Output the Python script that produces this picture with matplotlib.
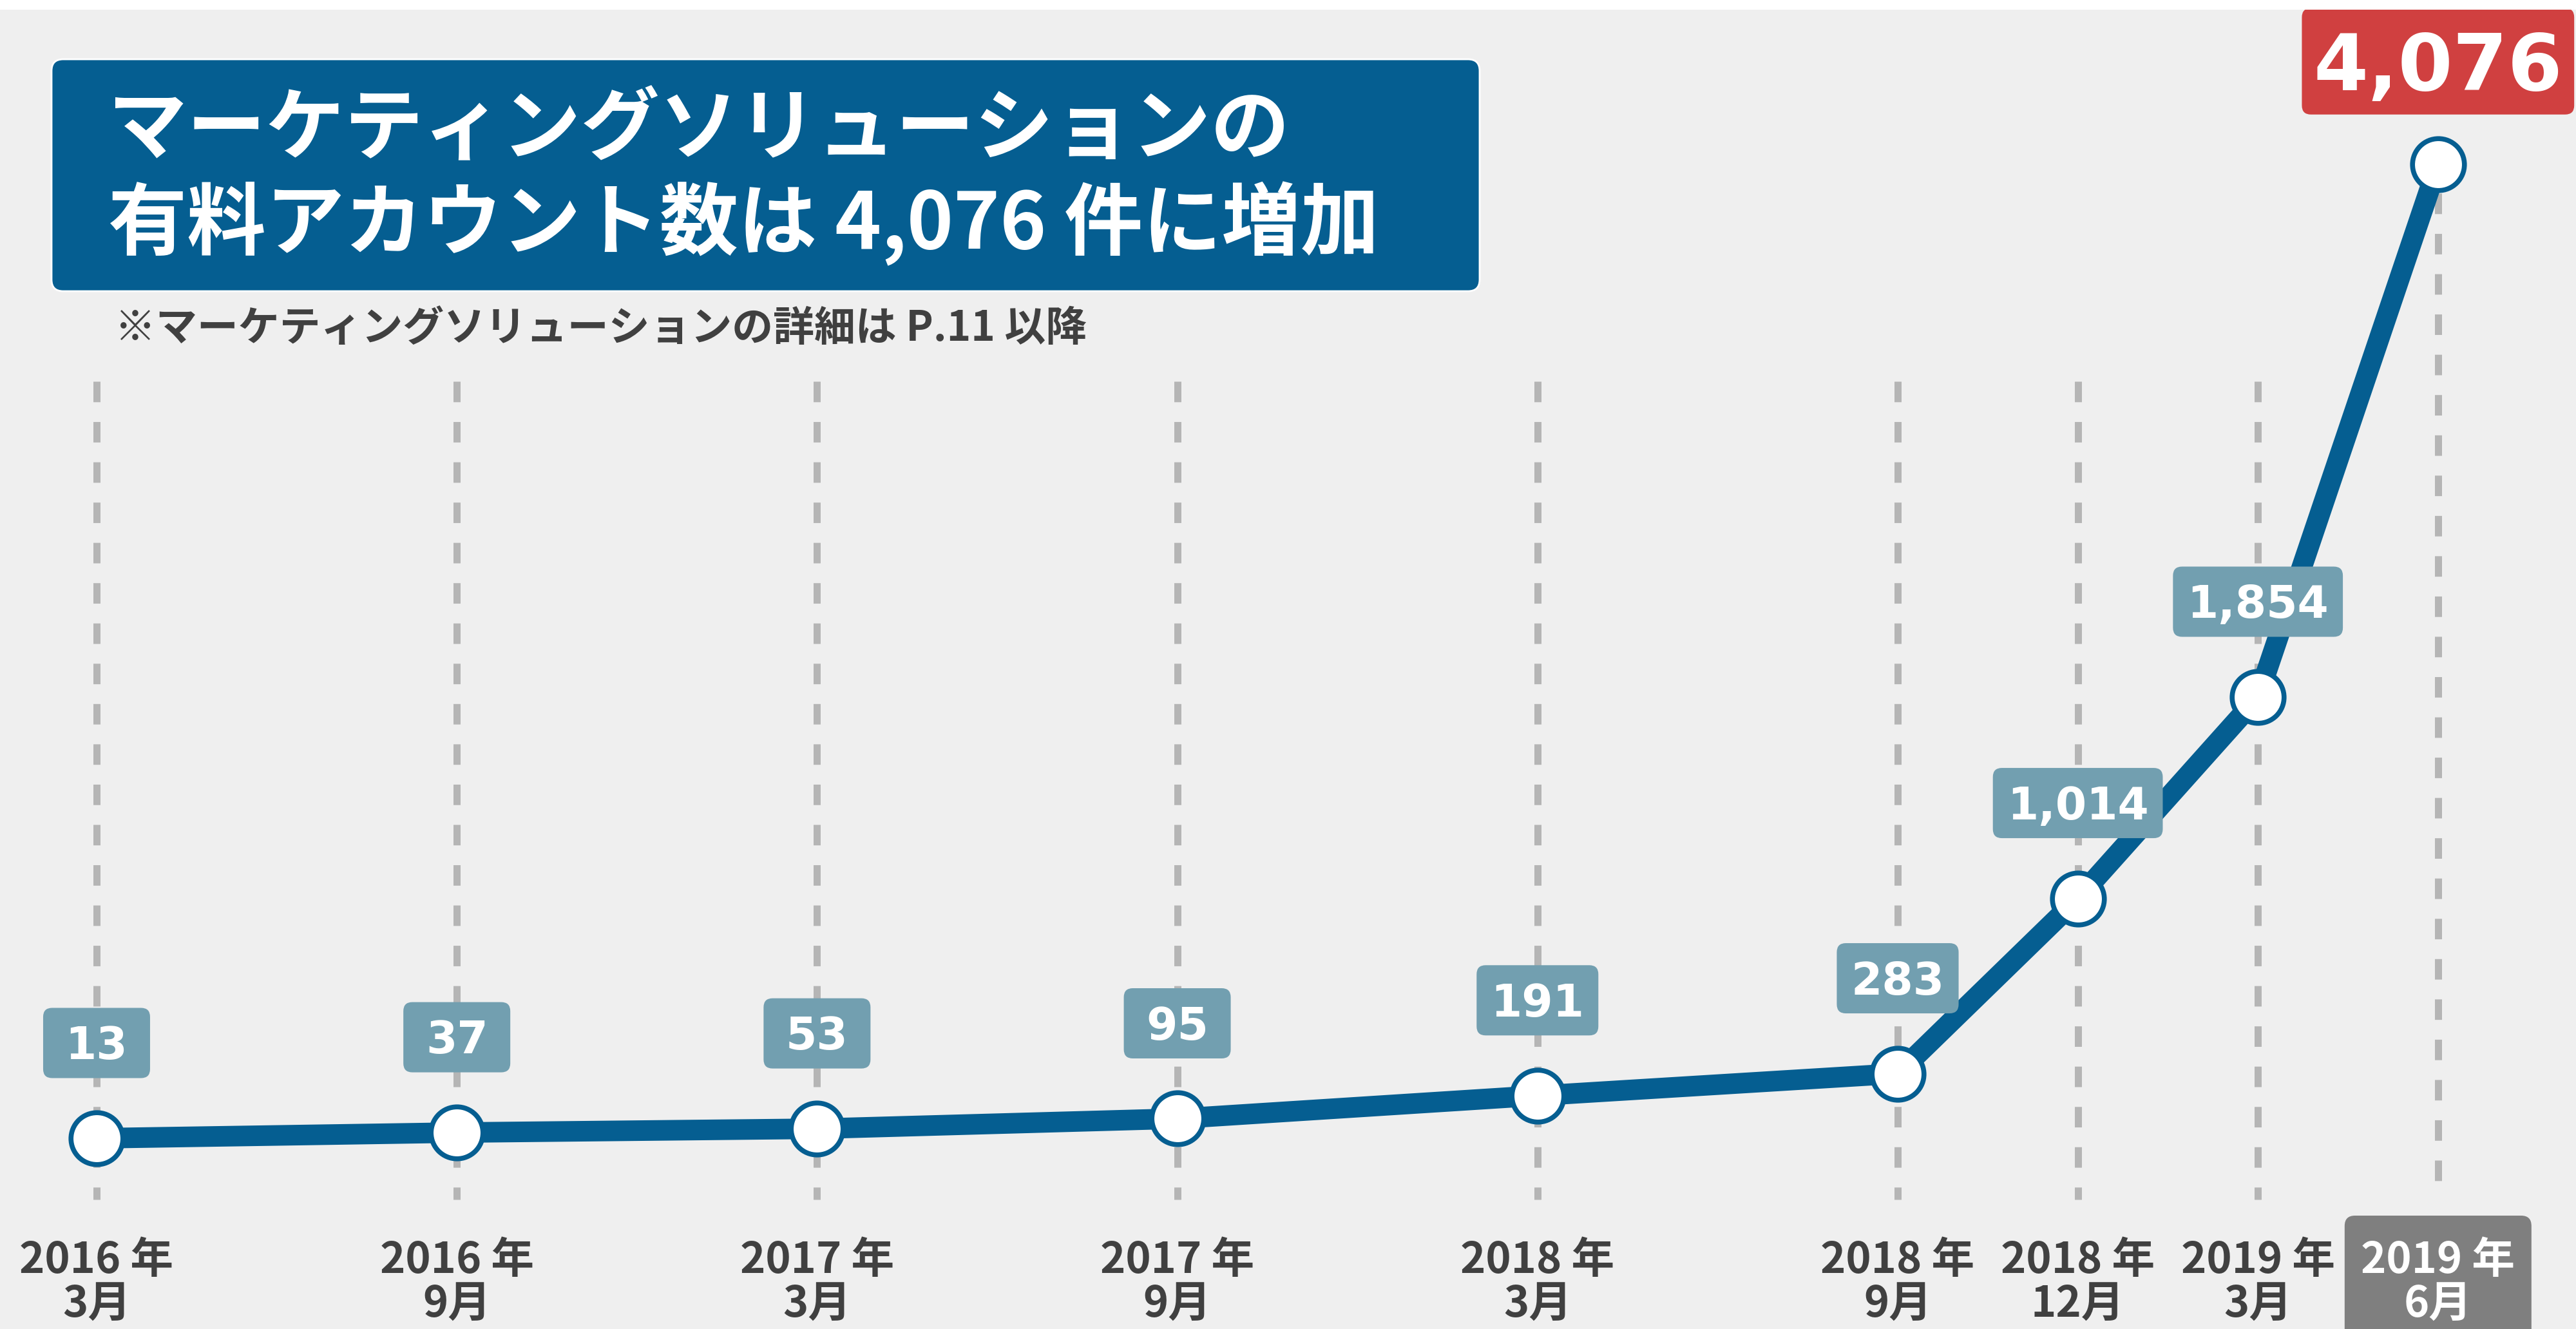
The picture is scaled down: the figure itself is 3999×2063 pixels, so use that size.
import matplotlib
matplotlib.use("Agg")
import matplotlib.pyplot as plt
from matplotlib.patches import FancyBboxPatch, Rectangle
from matplotlib.transforms import IdentityTransform
import numpy as np

# ---------------- data ----------------
years = [2016, 2016, 2017, 2017, 2018, 2018, 2018, 2019, 2019]
months = [3, 9, 3, 9, 3, 9, 12, 3, 6]
accounts = [13, 37, 53, 95, 191, 283, 1014, 1854, 4076]
title_lines = ["マーケティングソリューションの", "有料アカウント数は 4,076 件に増加"]
note = "※マーケティングソリューションの詳細は P.11 以降"

# ---------------- style ----------------
W, H, DPI = 3999, 2063, 100
BLUE = "#055E91"
LABEL_BG = "#729FB0"
RED = "#D04040"
DASH = "#B5B5B5"
DARK = "#404040"
BG = "#EFEFEF"
CJK = ["Noto Sans CJK JP", "DejaVu Sans"]

fig = plt.figure(figsize=(W / DPI, H / DPI), dpi=DPI, facecolor=BG)
ax = fig.add_axes([0, 0, 1, 1])
ax.axis("off")
ident = IdentityTransform()

# top white strip
fig.patches.append(Rectangle((0, 1 - 15 / H), 1, 15 / H, transform=fig.transFigure,
                             facecolor="white", edgecolor="none", zorder=0))

# x as months since first period
x = [(yr - years[0]) * 12 + (mo - months[0]) for yr, mo in zip(years, months)]
ax.set_xlim(-1.609, 41.298)
ax.set_ylim(-782.5, 4762)

pts = ax.transData.transform(np.column_stack([x, accounts]))
n = len(accounts)

# dashed vertical guides
for i, (px, py) in enumerate(pts):
    top = H - 300 if i == n - 1 else H - 592
    ax.plot([px, px], [top, H - 1862], transform=ident, color=DASH, lw=7.9,
            linestyle=(0, (2.9, 2.8)), dash_capstyle="butt", zorder=1)

# main line + markers
ax.plot(x, accounts, color=BLUE, lw=23, solid_capstyle="round", zorder=3)
ax.plot(x, accounts, linestyle="none", marker="o", ms=58, mfc="white", mec=BLUE,
        mew=5.5, zorder=4)

renderer = fig.canvas.get_renderer()

# value labels
for i, ((px, py), v) in enumerate(zip(pts, accounts)):
    last = i == n - 1
    fs = 88 if last else 50
    off = 160 if last else 148
    cy = py + off
    em = fs * DPI / 72
    t = ax.text(px, cy - 0.729 * em / 2, f"{v:,}", transform=ident, ha="center",
                va="baseline", color="white", fontsize=fs, fontweight="bold",
                family="DejaVu Sans", zorder=7)
    tw = t.get_window_extent(renderer).width
    if last:
        bw, bh, fc = tw + 36, 165, RED
    else:
        bw, bh, fc = max(166, tw + 44), 109, LABEL_BG
    ax.add_patch(FancyBboxPatch((px - bw / 2, cy - bh / 2), bw, bh,
                                boxstyle="round,pad=0,rounding_size=14",
                                transform=ident, fc=fc, ec="none", zorder=6))

# x-axis labels
for i, ((px, py), yr, mo) in enumerate(zip(pts, years, months)):
    last = i == n - 1
    col = "white" if last else DARK
    if last:
        ax.add_patch(FancyBboxPatch((px - 145, -40), 290, H - 1887 + 40,
                                    boxstyle="round,pad=0,rounding_size=16",
                                    transform=ident, fc="#7F7F7F", ec="none", zorder=2))
    ax.text(px, H - 1976, f"{yr} 年", transform=ident, ha="center", va="baseline",
            fontsize=48, fontweight="bold", color=col, family=CJK, zorder=5)
    ax.text(px, H - 2045, f"{mo}月", transform=ident, ha="center", va="baseline",
            fontsize=48, fontweight="bold", color=col, family=CJK, zorder=5)

# title box
ax.add_patch(FancyBboxPatch((80, H - 452), 2217, 360,
                            boxstyle="round,pad=0,rounding_size=18",
                            transform=ident, fc=BLUE, ec="white", lw=2, zorder=8))
for line, yc in zip(title_lines, [203, 347]):
    ax.text(168, H - yc, line, transform=ident, ha="left", va="center",
            fontsize=88, fontweight="bold", color="white", family=CJK, zorder=9)

# note
ax.text(178, H - 510, note, transform=ident, ha="left", va="center",
        fontsize=46, fontweight="bold", color=DARK, family=CJK, zorder=9)

fig.savefig("out.png", dpi=DPI, facecolor=BG)
